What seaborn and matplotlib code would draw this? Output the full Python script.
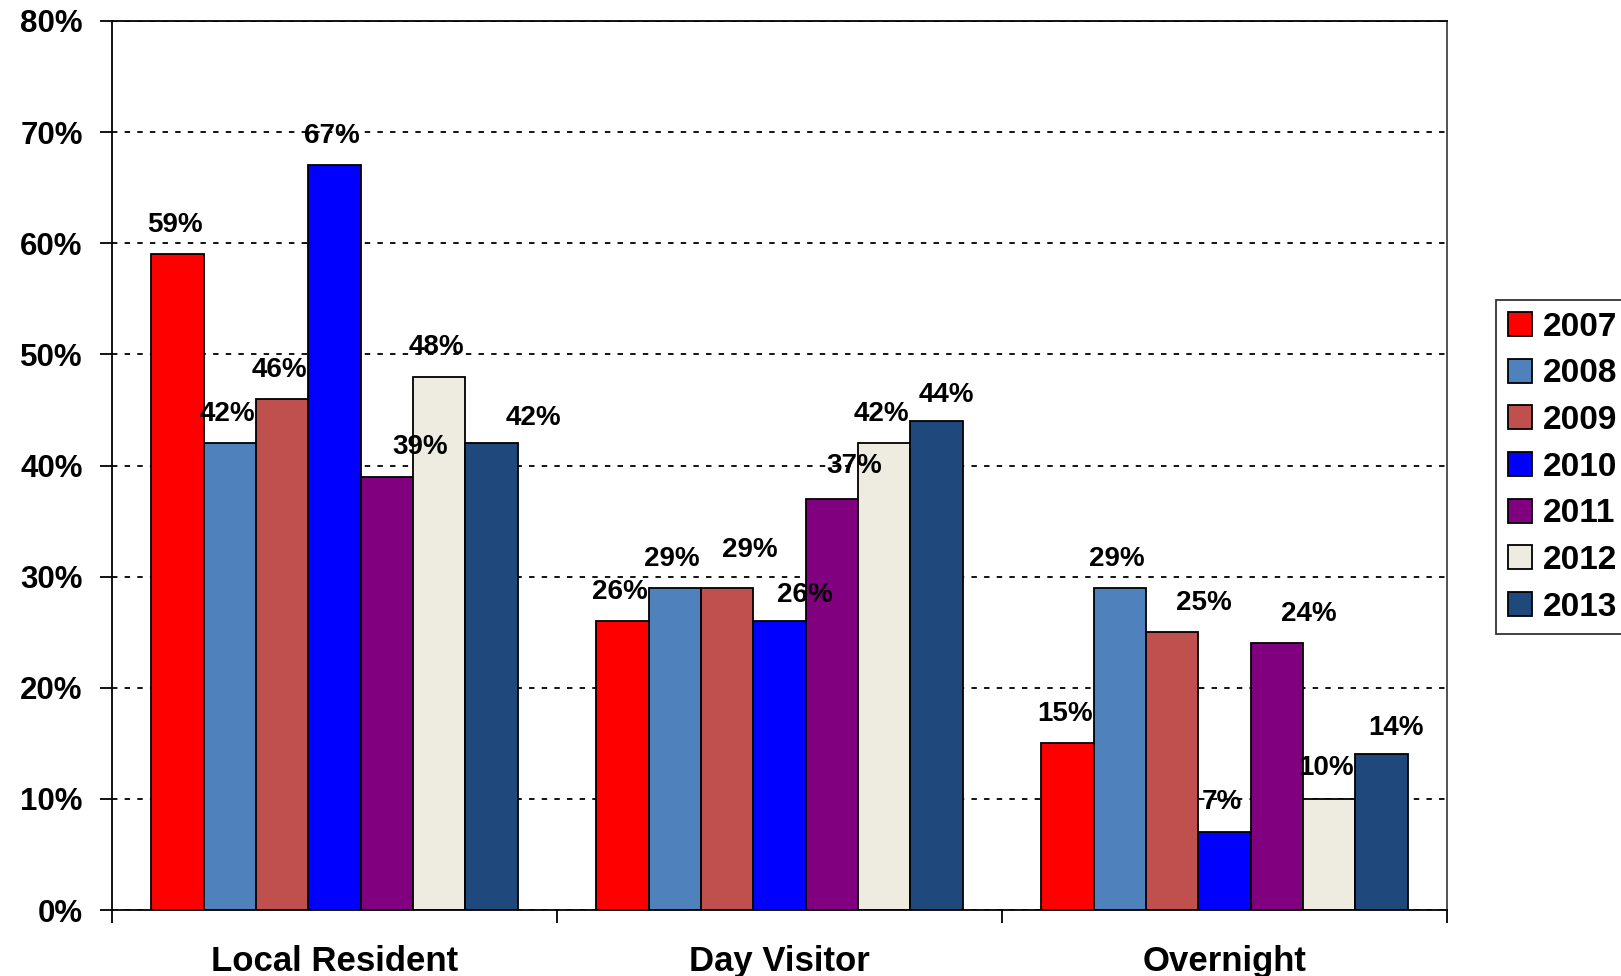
import matplotlib
matplotlib.use("Agg")
import matplotlib.pyplot as plt
import seaborn as sns
import pandas as pd
import numpy as np

categories = ["Local Resident", "Day Visitor", "Overnight"]
years = ["2007", "2008", "2009", "2010", "2011", "2012", "2013"]
v2007 = [59, 26, 15]
v2008 = [42, 29, 29]
v2009 = [46, 29, 25]
v2010 = [67, 26, 7]
v2011 = [39, 37, 24]
v2012 = [48, 42, 10]
v2013 = [42, 44, 14]
colors = ["#FF0000", "#4F81BD", "#C0504D", "#0000FF", "#800080", "#EEECE1", "#1F497D"]

# label offsets (style only), per category, per year, in points
label_dx = [[-2, -2, -2, -2, 24, -2, 30],
            [-2, -2, 16, 18, 16, -2, 7],
            [-2, -2, 23, -2, 23, -2, 10]]
label_dy = [[21, 21, 21, 21, 21, 21, 18],
            [21, 21, 27, 19, 24, 21, 19],
            [21, 21, 21, 22, 21, 22, 19]]

series = [v2007, v2008, v2009, v2010, v2011, v2012, v2013]
rows = []
for y, vals in zip(years, series):
    for c, v in zip(categories, vals):
        rows.append({"category": c, "year": y, "value": v})
df = pd.DataFrame(rows)

sns.set_theme(style="white")
plt.rcParams["font.family"] = ["Liberation Sans", "DejaVu Sans"]
plt.rcParams["font.weight"] = "bold"
plt.rcParams["text.color"] = "black"
plt.rcParams["xtick.color"] = "black"
plt.rcParams["ytick.color"] = "black"

fig = plt.figure(figsize=(16.21, 9.76), dpi=100)
ax = fig.add_axes([112 / 1621, 1 - 910 / 976, (1447 - 112) / 1621, (910 - 21) / 976])

sns.barplot(data=df, x="category", y="value", hue="year", order=categories,
            hue_order=years, palette=colors, width=0.824, saturation=1,
            edgecolor="black", linewidth=1.3, ax=ax, legend=True)

ax.set_xlim(-0.5, 2.5)
ax.set_ylim(0, 80)
ax.set_yticks(np.arange(0, 81, 10))
ax.set_yticklabels([f"{t}%" for t in range(0, 81, 10)], fontsize=22.5, fontweight="bold")
ax.yaxis.grid(True, linestyle=(0, (3, 4)), color="black", linewidth=1.3)
ax.set_axisbelow(True)

ax.set_xticks(range(3))
ax.set_xticklabels(categories, fontsize=25, fontweight="bold")
ax.tick_params(axis="x", which="major", length=0, pad=25, labelcolor="black")
ax.set_xticks([-0.5, 0.5, 1.5, 2.5], minor=True)
ax.tick_params(axis="x", which="minor", length=9, width=1.3, color="black", direction="out", bottom=True)
ax.tick_params(axis="y", length=9, width=1.3, color="black", direction="out", left=True, pad=12,
               labelcolor="black")
ax.set_xlabel("")
ax.set_ylabel("")
for s in ax.spines.values():
    s.set_visible(True)
    s.set_color("black")
    s.set_linewidth(1.3)
ax.spines["right"].set_color("#444444")

for j, cont in enumerate(ax.containers):
    for i, bar in enumerate(cont):
        h = bar.get_height()
        ax.annotate(f"{h:.0f}%", (bar.get_x() + bar.get_width() / 2, h),
                    xytext=(label_dx[i][j], label_dy[i][j]), textcoords="offset points",
                    ha="center", va="center", fontsize=20, fontweight="bold", color="black")

handles, labels = ax.get_legend_handles_labels()
ax.legend_.remove()
leg = fig.legend(handles, labels, loc="upper left",
                 bbox_to_anchor=(1496 / 1621, 1 - 300 / 976), frameon=True,
                 prop={"weight": "bold", "size": 24}, borderaxespad=0,
                 handlelength=0.72, handleheight=0.72, handletextpad=0.35,
                 labelspacing=0.47, borderpad=0.35, fancybox=False, edgecolor="black")
leg.get_frame().set_linewidth(1.3)
for t in leg.get_texts():
    t.set_color("black")

fig.savefig("out.png", dpi=100)
